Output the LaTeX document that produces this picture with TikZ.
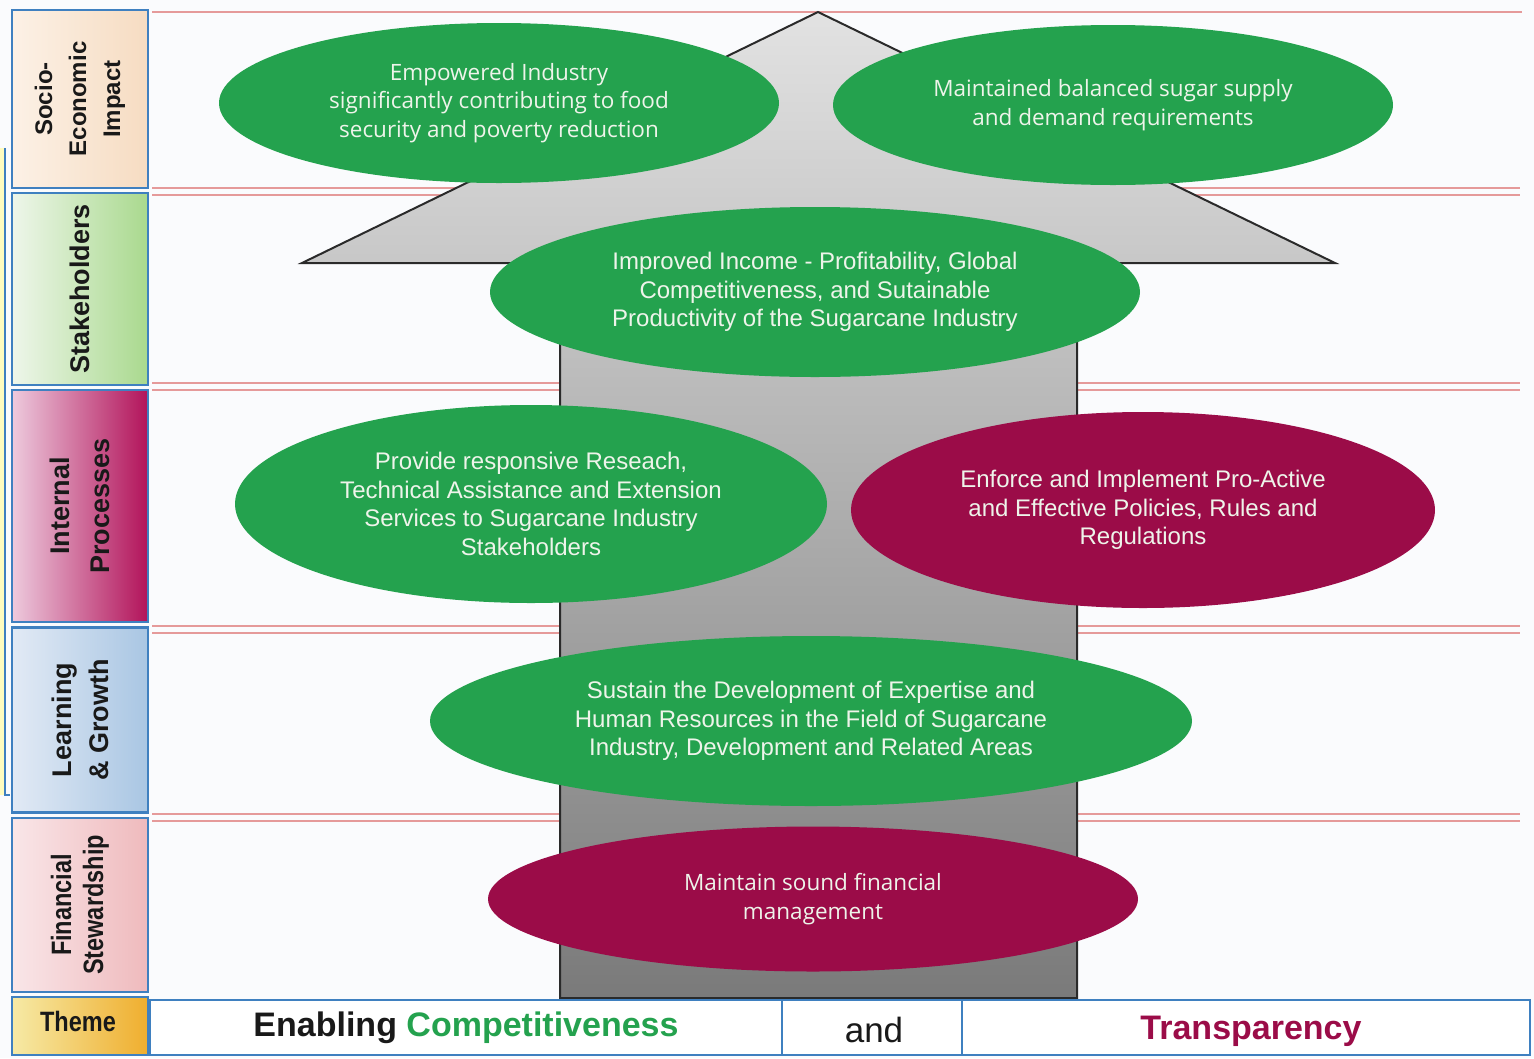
\documentclass[tikz,border=0pt]{standalone}
\usepackage{fontspec}
\setmainfont{Liberation Sans}
\newfontfamily\osans{Open Sans}
\newfontfamily\narrowb[FakeStretch=0.84]{Liberation Sans}
\usetikzlibrary{shapes.geometric}
\definecolor{grn}{HTML}{24A24E}
\definecolor{crim}{HTML}{9B0C48}
\definecolor{etext}{HTML}{EEF4EA}
\definecolor{boxblue}{HTML}{3F80C0}
\definecolor{redline}{HTML}{E59A9A}
\definecolor{arrowline}{HTML}{2A2A2A}
\definecolor{ag1}{HTML}{E2E2E2}
\definecolor{ag2}{HTML}{BDBDBD}
\definecolor{ag3}{HTML}{7A7A7A}
\definecolor{bg}{HTML}{FAFBFD}
\definecolor{socL}{HTML}{FCF1E6}\definecolor{socR}{HTML}{F6DCC2}
\definecolor{stkL}{HTML}{EEF6EA}\definecolor{stkR}{HTML}{A9D98E}
\definecolor{intL}{HTML}{EDCADD}\definecolor{intR}{HTML}{B2135A}
\definecolor{lrnL}{HTML}{E2EAF5}\definecolor{lrnR}{HTML}{A9C6E3}
\definecolor{finL}{HTML}{F9E6E8}\definecolor{finR}{HTML}{EFBABD}
\definecolor{thmL}{HTML}{F6EAA6}\definecolor{thmR}{HTML}{EFAE2E}
\begin{document}
\begin{tikzpicture}[x=1pt,y=-1pt,
  labbox/.style={draw=boxblue, line width=2.5pt, inner sep=0pt, minimum width=136pt},
  labtext/.style={rotate=90, align=center, text=black!90, font=\bfseries\fontsize{26}{36}\selectfont, inner sep=0pt},
  nartext/.style={rotate=90, align=center, text=black!90, font=\narrowb\bfseries\fontsize{28}{32}\selectfont, inner sep=0pt},
  ell/.style={ellipse, inner sep=0pt, text=etext, align=center},
  ellA/.style={ell, font=\osans\fontsize{22.5}{28.5}\selectfont},
  ellB/.style={ell, font=\fontsize{24}{28.5}\selectfont},
  gfill/.style={fill=grn},
  rfill/.style={fill=crim},
  rl/.style={draw=redline, line width=2.4pt},
  cell/.style={draw=boxblue, line width=2pt, fill=white, inner sep=0pt, minimum height=55pt}
]
\useasboundingbox (0,0) rectangle (1534,1058);
\fill[bg] (0,0) rectangle (1534,1058);

% left edge remnant
\fill[yellow!25] (0,148) rectangle (4,795);
\draw[boxblue, line width=1.5pt] (5,148) -- (5,795) -- (10,795);

% red row lines
\draw[rl] (152,12) -- (1522,12);
\foreach \yy in {188,195,383,390,626,633,814,821}{
  \draw[rl] (152,\yy) -- (1520,\yy);
}

% big arrow
\path[draw=arrowline, line width=2pt, line join=miter, top color=ag1, middle color=ag2, bottom color=ag3]
  (818,12) -- (1335,263) -- (1077,263) -- (1077,998) -- (560,998) -- (560,263) -- (302,263) -- cycle;

% ellipses
\node[ellA, gfill, minimum width=560pt, minimum height=160pt] (e1) at (499,103)
  {Empowered Industry\\significantly contributing to food\\security and poverty reduction};
\node[ellA, gfill, minimum width=560pt, minimum height=160pt] (e2) at (1113,105)
  {Maintained balanced sugar supply\\and demand requirements};
\node[ellB, gfill, minimum width=650pt, minimum height=170pt] (e3) at (815,292)
  {Improved Income - Profitability, Global\\Competitiveness, and Sutainable\\Productivity of the Sugarcane Industry};
\node[ellB, gfill, minimum width=592pt, minimum height=198pt] (e4) at (531,504)
  {Provide responsive Reseach,\\Technical Assistance and Extension\\Services to Sugarcane Industry\\Stakeholders};
\node[ellB, rfill, minimum width=584pt, minimum height=196pt] (e5) at (1143,510)
  {Enforce and Implement Pro-Active\\and Effective Policies, Rules and\\Regulations};
\node[ellB, gfill, minimum width=762pt, minimum height=170pt] (e6) at (811,721)
  {Sustain the Development of Expertise and\\Human Resources in the Field of Sugarcane\\Industry, Development and Related Areas};
\node[ellA, rfill, minimum width=650pt, minimum height=145pt] (e7) at (813,899)
  {Maintain sound financial\\management};

% left label boxes
\node[labbox, minimum height=178pt, left color=socL, right color=socR] (socio) at (80,99) {};
\node[labtext, font=\bfseries\fontsize{24}{34}\selectfont] (socioT) at (socio) {Socio-\\Economic\\Impact};

\node[labbox, minimum height=192pt, left color=stkL, right color=stkR] (stake) at (80,289) {};
\node[labtext, font=\bfseries\fontsize{27}{36}\selectfont] (stakeT) at (stake) {Stakeholders};

\node[labbox, minimum height=232pt, left color=intL, right color=intR] (intp) at (80,506) {};
\node[labtext, font=\bfseries\fontsize{27}{40}\selectfont] (intpT) at (intp) {Internal\\Processes};

\node[labbox, minimum height=185pt, left color=lrnL, right color=lrnR] (learn) at (80,720) {};
\node[labtext, font=\bfseries\fontsize{27}{37}\selectfont] (learnT) at (learn) {Learning\\\& Growth};

\node[labbox, minimum height=174pt, left color=finL, right color=finR] (fin) at (80,905) {};
\node[nartext] (finT) at (fin) {Financial\\Stewardship};

\node[labbox, minimum height=58pt, left color=thmL, right color=thmR] (theme) at (80,1026) {};
\node[font=\narrowb\bfseries\fontsize{28}{32}\selectfont, text=black!90, inner sep=0pt] (themeT) at (78,1021) {Theme};

% bottom theme bar
\node[cell, minimum width=632pt] (cA) at (466,1027.5) {};
\node[cell, minimum width=180pt] (cB) at (872,1027.5) {};
\node[cell, minimum width=568pt] (cC) at (1246,1027.5) {};
\node[font=\bfseries\fontsize{34}{38}\selectfont, inner sep=0pt] (tA) at (466,1028)
  {\textcolor{black!90}{Enabling} \textcolor{grn}{Competitiveness}};
\node[font=\fontsize{35}{38}\selectfont, text=black!90, inner sep=0pt] (tB) at (874,1030) {and};
\node[font=\bfseries\fontsize{34}{38}\selectfont, text=crim, inner sep=0pt] (tC) at (1251,1031) {Transparency};
\end{tikzpicture}
\end{document}
